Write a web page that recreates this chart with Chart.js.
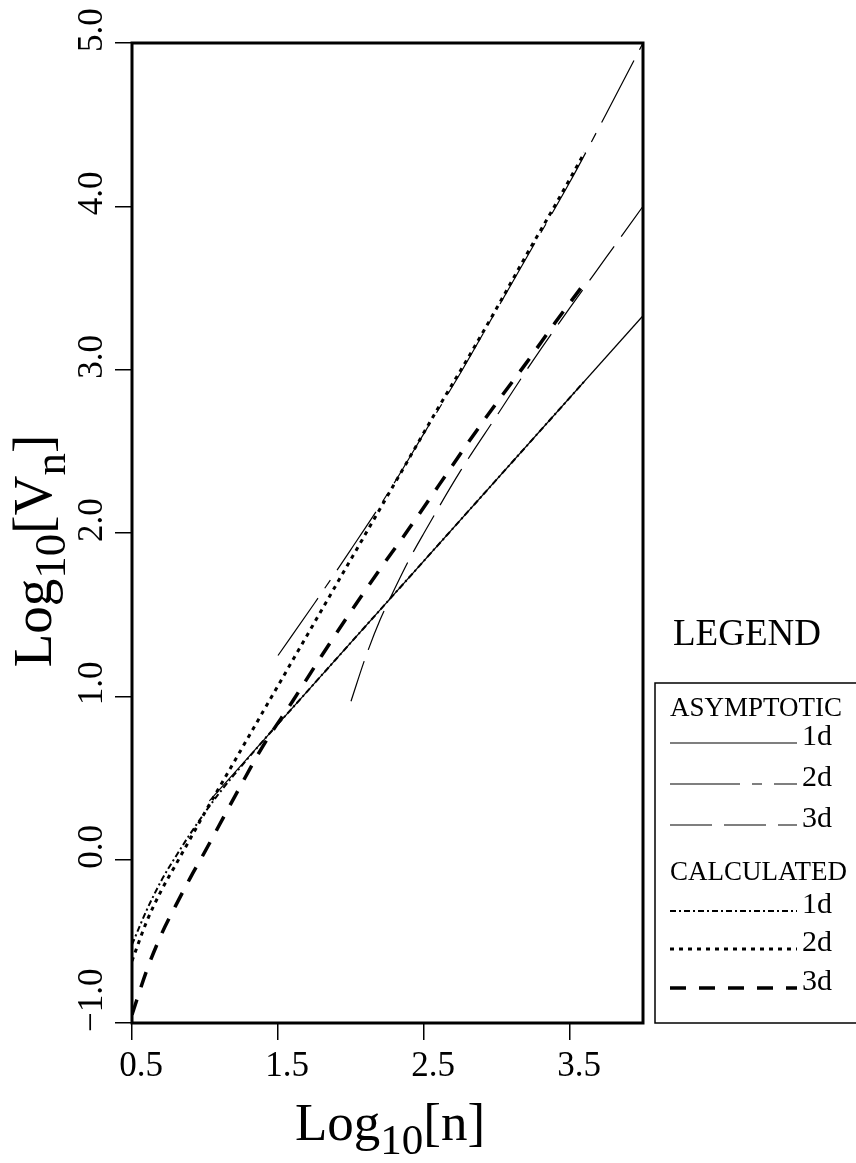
<!DOCTYPE html>
<html>
<head>
<meta charset="utf-8">
<title>Log10[Vn] vs Log10[n]</title>
<script src="https://cdn.jsdelivr.net/npm/chart.js@4.4.1/dist/chart.umd.min.js"></script>
<style>
  html, body { margin: 0; padding: 0; background: #fff; }
  #wrap { width: 856px; height: 1163px; }
</style>
</head>
<body>
<div id="wrap"><canvas id="chart" width="856" height="1163"></canvas></div>
<script>
// tick values
const xTicks = [0.5, 1.5, 2.5, 3.5];
const yTicks = [-1, 0, 1, 2, 3, 4, 5];

// asymptotic curves
const asym1dX = [1.03, 4.0];
const asym1dY = [0.36, 3.33];
const asym2dX = [1.5, 1.75, 2.0, 2.25, 2.5, 2.75, 3.0, 3.25, 3.5, 3.75, 4.0];
const asym2dY = [1.25, 1.57, 1.90, 2.24, 2.61, 2.98, 3.37, 3.76, 4.15, 4.57, 5.0];
const asym3dX = [2.0, 2.1, 2.2, 2.3, 2.4, 2.5, 2.75, 3.0, 3.25, 3.5, 3.75, 4.0];
const asym3dY = [0.97, 1.24, 1.47, 1.66, 1.84, 2.00, 2.38, 2.72, 3.06, 3.38, 3.69, 4.0];

// calculated curves
const calc1dX = [0.5, 0.6, 0.7, 0.8, 0.9, 1.0, 1.1, 1.2, 1.4, 1.6, 2.0, 2.5, 3.0, 3.6];
const calc1dY = [-0.52, -0.31, -0.13, 0.02, 0.16, 0.29, 0.41, 0.52, 0.73, 0.93, 1.33, 1.83, 2.33, 2.93];
const calc2dX = [0.5, 0.6, 0.7, 0.8, 0.9, 1.0, 1.2, 1.4, 1.6, 1.8, 2.0, 2.2, 2.4, 2.6, 2.8, 3.0, 3.2, 3.4, 3.6];
const calc2dY = [-0.62, -0.38, -0.19, -0.03, 0.13, 0.29, 0.60, 0.91, 1.22, 1.53, 1.84, 2.15, 2.46, 2.77, 3.07, 3.38, 3.70, 4.01, 4.33];
const calc3dX = [0.5, 0.6, 0.7, 0.8, 0.9, 1.0, 1.2, 1.4, 1.6, 1.8, 2.0, 2.2, 2.4, 2.6, 2.8, 3.0, 3.2, 3.4, 3.6];
const calc3dY = [-0.95, -0.68, -0.46, -0.28, -0.11, 0.05, 0.38, 0.70, 0.97, 1.25, 1.52, 1.78, 2.03, 2.29, 2.55, 2.80, 3.04, 3.29, 3.53];

const SERIF = '"Liberation Serif", "DejaVu Serif", serif';
const pts = (xs, ys) => xs.map((x, i) => ({ x: x, y: ys[i] }));

function line(group, name, xs, ys, width, dash, smooth) {
    return {
        label: group + ' ' + name,
        group: group,
        name: name,
        data: pts(xs, ys),
        showLine: true,
        borderColor: '#000',
        backgroundColor: '#000',
        borderWidth: width,
        borderDash: dash,
        pointRadius: 0,
        fill: false,
        cubicInterpolationMode: smooth ? 'monotone' : 'default',
        tension: 0
    };
}

const datasets = [
    line('ASYMPTOTIC', '1d', asym1dX, asym1dY, 1.2, [], false),
    line('ASYMPTOTIC', '2d', asym2dX, asym2dY, 1.2, [70, 12, 10, 12], true),
    line('ASYMPTOTIC', '3d', asym3dX, asym3dY, 1.2, [42, 12], true),
    line('CALCULATED', '1d', calc1dX, calc1dY, 2, [6, 3, 2, 3], true),
    line('CALCULATED', '2d', calc2dX, calc2dY, 3, [4, 5], true),
    line('CALCULATED', '3d', calc3dX, calc3dY, 3.5, [16, 13], true)
];

// text like Log10[n] with subscripts
function drawRich(ctx, parts, cx, cy, size, subSize, subShift) {
    let total = 0;
    parts.forEach(p => {
        ctx.font = (p.sub ? subSize : size) + 'px ' + SERIF;
        p.w = ctx.measureText(p.t).width;
        total += p.w;
    });
    let x = cx - total / 2;
    ctx.textAlign = 'left';
    ctx.textBaseline = 'alphabetic';
    parts.forEach(p => {
        ctx.font = (p.sub ? subSize : size) + 'px ' + SERIF;
        ctx.fillText(p.t, x, cy + (p.sub ? subShift : 0));
        x += p.w;
    });
}

const decorPlugin = {
    id: 'decor',
    afterDraw(chart) {
        const ctx = chart.ctx;
        const area = chart.chartArea;
        const ys = chart.scales.y;
        ctx.save();
        ctx.fillStyle = '#000';
        ctx.strokeStyle = '#000';

        // plot frame
        ctx.lineWidth = 3;
        ctx.strokeRect(area.left, area.top, area.right - area.left, area.bottom - area.top);

        // y tick labels, rotated
        ctx.font = '35px ' + SERIF;
        yTicks.forEach(v => {
            const py = ys.getPixelForValue(v);
            ctx.save();
            ctx.translate(102, py + 9);
            ctx.rotate(-Math.PI / 2);
            ctx.textAlign = 'left';
            ctx.textBaseline = 'alphabetic';
            ctx.fillText((v < 0 ? '\u2212' : '') + Math.abs(v).toFixed(1), 0, 0);
            ctx.restore();
        });

        // axis titles
        drawRich(ctx, [{ t: 'Log' }, { t: '10', sub: true }, { t: '[n]' }], 390, 1140, 53, 43, 14);
        ctx.save();
        ctx.translate(51, 551);
        ctx.rotate(-Math.PI / 2);
        drawRich(ctx, [{ t: 'Log' }, { t: '10', sub: true }, { t: '[V' }, { t: 'n', sub: true }, { t: ']' }], 0, 0, 55, 45, 14);
        ctx.restore();

        // legend
        ctx.textAlign = 'left';
        ctx.textBaseline = 'alphabetic';
        ctx.font = '37px ' + SERIF;
        ctx.fillText('LEGEND', 673, 645);
        ctx.lineWidth = 1.5;
        ctx.strokeRect(655, 683, 220, area.bottom - 683);

        const rows = [
            { head: 'ASYMPTOTIC', y: 716 },
            { ds: 0, y: 745 }, { ds: 1, y: 786 }, { ds: 2, y: 827 },
            { head: 'CALCULATED', y: 880 },
            { ds: 3, y: 913 }, { ds: 4, y: 951 }, { ds: 5, y: 990 }
        ];
        rows.forEach(r => {
            ctx.font = '27px ' + SERIF;
            if (r.head) {
                ctx.fillText(r.head, 670, r.y);
                return;
            }
            const d = chart.data.datasets[r.ds];
            ctx.save();
            ctx.lineWidth = d.borderWidth;
            ctx.setLineDash(d.borderDash);
            ctx.beginPath();
            ctx.moveTo(670, r.y - 2);
            ctx.lineTo(797, r.y - 2);
            ctx.stroke();
            ctx.restore();
            ctx.font = '30px ' + SERIF;
            ctx.fillText(d.name, 802, r.y);
        });
        ctx.restore();
    }
};

new Chart(document.getElementById('chart'), {
    type: 'scatter',
    data: { datasets: datasets },
    options: {
        responsive: false,
        animation: false,
        layout: { padding: { top: 43, right: 213, left: 0, bottom: 0 } },
        plugins: { legend: { display: false }, tooltip: { enabled: false } },
        scales: {
            x: {
                type: 'linear',
                min: 0.5,
                max: 4.0,
                afterBuildTicks: s => { s.ticks = xTicks.map(v => ({ value: v })); },
                afterFit: s => { s.height = 140; },
                grid: { display: true, drawOnChartArea: false, drawTicks: true, tickLength: 17, color: '#000', lineWidth: 1.5 },
                border: { display: false },
                ticks: {
                    autoSkip: false,
                    maxRotation: 0,
                    labelOffset: 9,
                    padding: 6,
                    color: '#000',
                    font: { family: SERIF, size: 35 },
                    callback: v => v.toFixed(1)
                }
            },
            y: {
                type: 'linear',
                min: -1,
                max: 5,
                afterBuildTicks: s => { s.ticks = yTicks.map(v => ({ value: v })); },
                afterFit: s => { s.width = 132; },
                grid: { display: true, drawOnChartArea: false, drawTicks: true, tickLength: 17, color: '#000', lineWidth: 1.5 },
                border: { display: false },
                ticks: { display: false }
            }
        }
    },
    plugins: [decorPlugin]
});
</script>
</body>
</html>
